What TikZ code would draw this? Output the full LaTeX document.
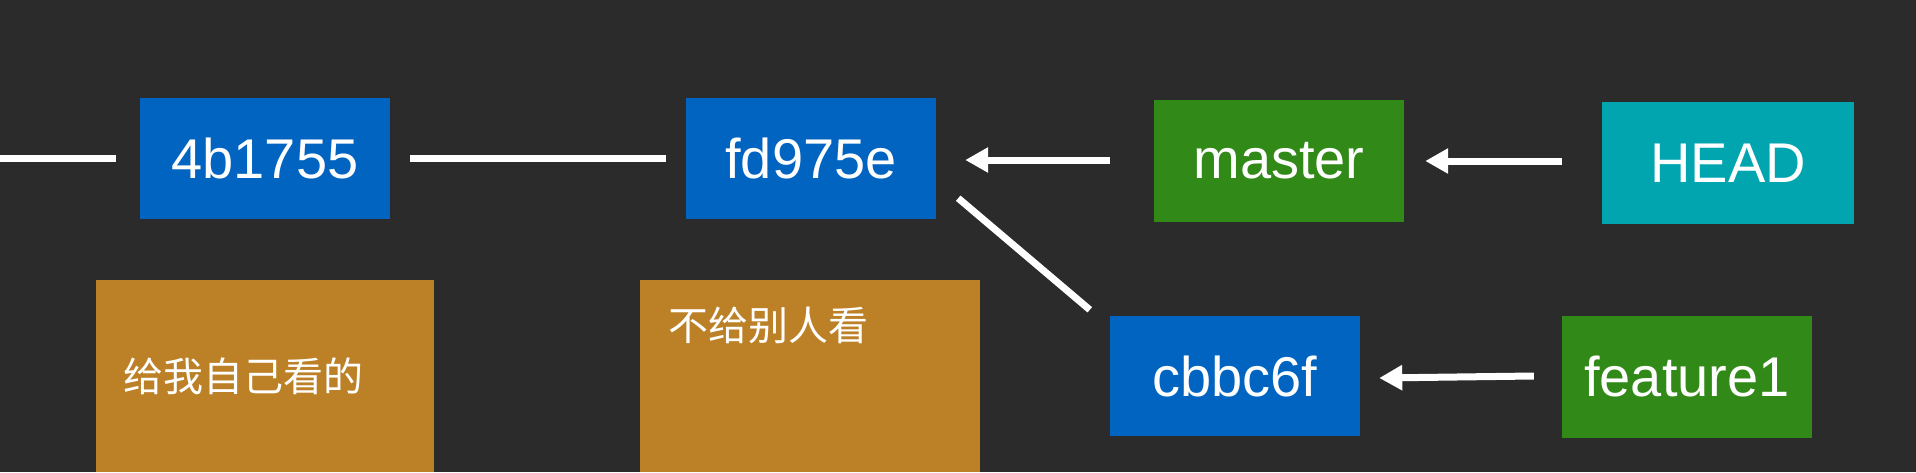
\documentclass[tikz,border=0pt]{standalone}
\usepackage{fontspec}
\setmainfont{Liberation Sans}
\newfontfamily\cjk{Noto Sans CJK SC}
\usetikzlibrary{arrows.meta}
\definecolor{bg}{RGB}{43,43,43}
\definecolor{cblue}{RGB}{0,100,192}
\definecolor{cgreen}{RGB}{49,137,23}
\definecolor{cteal}{RGB}{0,165,175}
\definecolor{corange}{RGB}{188,129,39}
\begin{document}
\begin{tikzpicture}[x=1pt,y=-1pt,
  box/.style={rectangle, inner sep=0pt, text=white, font=\fontsize{56}{60}\selectfont, minimum width=250pt, minimum height=121pt},
  commit/.style={box, fill=cblue},
  branch/.style={box, fill=cgreen},
  headbox/.style={box, fill=cteal},
  note/.style={rectangle, fill=corange, inner sep=0pt, minimum height=192pt},
  notetext/.style={inner sep=0pt, text=white, font=\cjk\fontsize{40}{48}\selectfont},
  conn/.style={draw=white, line width=7pt},
  arr/.style={conn, -{Triangle[length=23pt,width=24pt]}}]
\fill[bg] (0,0) rectangle (1916,472);
\useasboundingbox (0,0) rectangle (1916,472);
% notes
\node[note, minimum width=338pt, text width=284pt, align=left, notetext] (n1) at (265,376) {给我自己看的};
\node[note, minimum width=340pt] (n2) at (810,376) {};
\node[notetext, anchor=west] (t2) at ([xshift=28pt, yshift=-46pt]n2.north west) {不给别人看};
% commits and refs
\node[commit] (c1) at (265,158.5) {4b1755};
\node[commit] (c2) at (811,158.5) {fd975e};
\node[commit, minimum height=120pt] (c3) at (1235,376) {cbbc6f};
\node[branch, minimum height=122pt] (master) at (1279,161) {master};
\node[headbox, minimum width=252pt, minimum height=122pt] (head) at (1728,163) {HEAD};
\node[branch, minimum height=122pt] (feat) at (1687,377) {feature1};
\coordinate (lft) at (0,158.5);
% connectors
\draw[conn] (lft) -- ([xshift=-24pt]c1.west);
\draw[conn] ([xshift=20pt]c1.east) -- ([xshift=-20pt]c2.west);
\draw[conn] ([xshift=22pt, yshift=21pt]c2.south east) -- ([xshift=-20pt, yshift=6pt]c3.north west);
\draw[arr] ([xshift=-44pt, yshift=1pt]master.west) -- ([xshift=29pt, yshift=-1.5pt]c2.east);
\draw[arr] ([xshift=-40pt, yshift=2pt]head.west) -- ([xshift=21pt]master.east);
\draw[arr] ([xshift=-28pt, yshift=1pt]feat.west) -- ([xshift=19pt, yshift=-2pt]c3.east);
\end{tikzpicture}
\end{document}
